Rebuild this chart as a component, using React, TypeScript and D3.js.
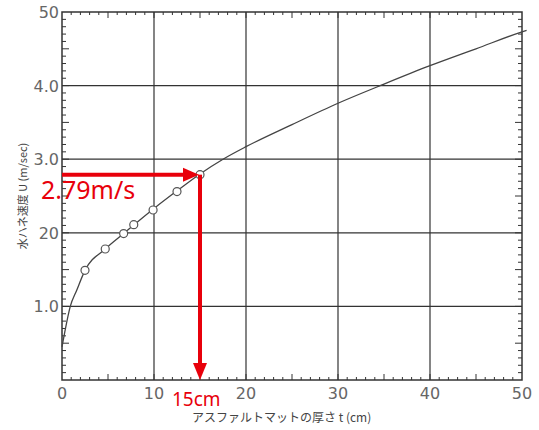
import React from 'react'
import * as d3 from 'd3'

// thickness t (cm) -> speed U (m/sec)
const curveT = [0, 0.3, 0.9, 1.6, 2.5, 4.7, 6.7, 10, 12.5, 15, 17.5, 20, 25, 30, 35, 40, 45, 50, 50.5]
const curveU = [0.45, 0.65, 1.0, 1.22, 1.49, 1.78, 1.99, 2.33, 2.57, 2.8, 3.0, 3.17, 3.47, 3.76, 4.02, 4.27, 4.5, 4.73, 4.75]

// measured points (circles)
const pointT = [2.5, 4.7, 6.7, 7.8, 9.9, 12.5, 15]
const pointU = [1.49, 1.78, 1.99, 2.11, 2.31, 2.56, 2.79]

const xTicks = [0, 10, 20, 30, 40, 50]
const yTicks = [1, 2, 3, 4, 5]
const yTickLabels = ['1.0', '20', '3.0', '4.0', '50']

const markT = 15
const markU = 2.79

const W = 539
const H = 430
const left = 62
const right = 522
const top = 12
const bottom = 380

const App = () => {
  const x = d3.scaleLinear().domain([0, 50]).range([left, right])
  const y = d3.scaleLinear().domain([0, 5]).range([bottom, top])

  const line = d3.line<number>()
    .x((_, i) => x(curveT[i]))
    .y((d) => y(d))
    .curve(d3.curveMonotoneX)

  const xMinor = d3.range(1, 50)
  const yMinor = d3.range(1, 50).map((v) => v / 10)

  const red = '#e8000b'
  const ink = '#333'
  const mx = x(markT)
  const my = y(markU)

  return (
    <div style={{ position: 'absolute', left: 0, top: 0 }}>
      <svg width={W} height={H} style={{ display: 'block', background: '#fff' }}>
        {/* grid */}
        {xTicks.slice(1, -1).map((t) => (
          <line key={'gx' + t} x1={x(t)} x2={x(t)} y1={top} y2={bottom} stroke={ink} strokeWidth={1.2} />
        ))}
        {yTicks.slice(0, -1).map((t) => (
          <line key={'gy' + t} x1={left} x2={right} y1={y(t)} y2={y(t)} stroke={ink} strokeWidth={1.2} />
        ))}

        {/* minor ticks */}
        {xMinor.map((t) => {
          const len = t % 5 === 0 ? 6 : 3
          return (
            <g key={'mx' + t} stroke={ink} strokeWidth={1}>
              <line x1={x(t)} x2={x(t)} y1={bottom} y2={bottom - len} />
              <line x1={x(t)} x2={x(t)} y1={top} y2={top + len} />
            </g>
          )
        })}
        {yMinor.map((t, i) => {
          const len = (i + 1) % 5 === 0 ? 7 : 4
          return (
            <g key={'my' + i} stroke={ink} strokeWidth={1}>
              <line x1={left} x2={left + len} y1={y(t)} y2={y(t)} />
              <line x1={right} x2={right - len} y1={y(t)} y2={y(t)} />
            </g>
          )
        })}

        {/* frame */}
        <rect x={left} y={top} width={right - left} height={bottom - top} fill="none" stroke={ink} strokeWidth={1.5} />

        {/* tick labels */}
        {xTicks.map((t) => (
          <text key={'tx' + t} x={x(t)} y={bottom + 19} textAnchor="middle" fontSize={16}
            fontFamily="'DejaVu Sans', sans-serif" fill="#666">{t}</text>
        ))}
        {yTicks.map((t, i) => (
          <text key={'ty' + t} x={left - 3} y={y(t) + 6} textAnchor="end" fontSize={16}
            fontFamily="'DejaVu Sans', sans-serif" fill="#666">{yTickLabels[i]}</text>
        ))}

        {/* axis titles */}
        <text x={192} y={422} fontSize={12} fontFamily="'Noto Sans CJK JP', sans-serif" fill="#444">
          アスファルトマットの厚さ t (cm)
        </text>
        <text transform="translate(27,196) rotate(-90)" textAnchor="middle" fontSize={11}
          fontFamily="'Noto Sans CJK JP', sans-serif" fill="#444">
          水ハネ速度 U (m/sec)
        </text>

        {/* curve */}
        <path d={line(curveU) ?? ''} fill="none" stroke="#444" strokeWidth={1.3} />

        {/* points */}
        {pointU.map((u, i) => (
          <circle key={'p' + i} cx={x(pointT[i])} cy={y(u)} r={4} fill="#fff" stroke="#555" strokeWidth={1.2} />
        ))}

        {/* red annotation arrows */}
        <line x1={left} x2={mx - 14} y1={my} y2={my} stroke={red} strokeWidth={4} />
        <path d={`M${mx - 1},${my} L${mx - 17},${my - 7} L${mx - 17},${my + 7} Z`} fill={red} />
        <line x1={mx} x2={mx} y1={my} y2={bottom - 14} stroke={red} strokeWidth={4} />
        <path d={`M${mx},${bottom} L${mx - 7},${bottom - 17} L${mx + 7},${bottom - 17} Z`} fill={red} />

        <text x={41} y={199} fontSize={25} fontFamily="'Noto Sans', sans-serif" fill={red}>2.79m/s</text>
        <text x={172} y={406} fontSize={19} fontFamily="'Noto Sans', sans-serif" fill={red}>15cm</text>
      </svg>
    </div>
  )
}

export default App
